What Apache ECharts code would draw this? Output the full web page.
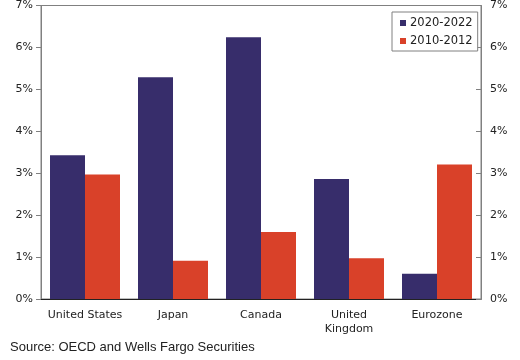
<!DOCTYPE html>
<html><head><meta charset="utf-8">
<script src="https://cdn.jsdelivr.net/npm/echarts@6/dist/echarts.min.js"></script>
<style>html,body{margin:0;padding:0;background:#fff}#c{width:520px;height:360px}</style>
</head><body><div id="c"></div>
<script>
const categories = ['United States', 'Japan', 'Canada', 'United\nKingdom', 'Eurozone'];
const series2020 = [3.43, 5.29, 6.24, 2.86, 0.60];
const series2010 = [2.97, 0.91, 1.60, 0.97, 3.21];
const seriesNames = ['2020-2022', '2010-2012'];
const sourceText = 'Source: OECD and Wells Fargo Securities';

const chart = echarts.init(document.getElementById('c'));
const axisCol = '#808080';
const font = 'DejaVu Sans, Verdana, sans-serif';
const yAx = (pos) => ({
  type: 'value', position: pos, min: 0, max: 7, interval: 1,
  axisLine: {show: true, lineStyle: {color: axisCol, width: 1}},
  axisTick: {show: true, inside: pos === 'right', length: 5, lineStyle: {color: axisCol}},
  splitLine: {show: false},
  axisLabel: {formatter: v => v + '%', color: '#222', fontSize: 11, fontFamily: font, margin: pos === 'right' ? 9 : 8}
});
chart.setOption({
  animation: false,
  grid: {left: 41, right: 39, top: 5, bottom: 61, show: true, borderColor: axisCol, borderWidth: 1},
  legend: {
    orient: 'vertical', left: 392, top: 12, itemWidth: 6, itemHeight: 6, icon: 'rect',
    itemGap: 6, padding: [5, 5, 4, 8], borderColor: axisCol, borderWidth: 1, backgroundColor: '#fff',
    textStyle: {fontSize: 11.5, fontFamily: font, color: '#222', padding: [0, 0, 0, -1]},
    data: seriesNames
  },
  xAxis: {
    type: 'category', data: categories,
    axisLine: {lineStyle: {color: '#222'}},
    axisTick: {show: false},
    axisLabel: {interval: 0, color: '#222', fontSize: 11, fontFamily: font, margin: 9, lineHeight: 14}
  },
  yAxis: [yAx('left'), yAx('right')],
  graphic: [{type: 'text', left: 10, top: 341, style: {text: sourceText, fontSize: 13, fontFamily: 'Liberation Sans, Arial, sans-serif', fill: '#222'}}],
  series: [
    {name: seriesNames[0], type: 'bar', data: series2020, barWidth: 35, barGap: '0%', itemStyle: {color: '#372D6B'}},
    {name: seriesNames[1], type: 'bar', data: series2010, barWidth: 35, barGap: '0%', itemStyle: {color: '#D94129'}}
  ]
});
</script></body></html>
